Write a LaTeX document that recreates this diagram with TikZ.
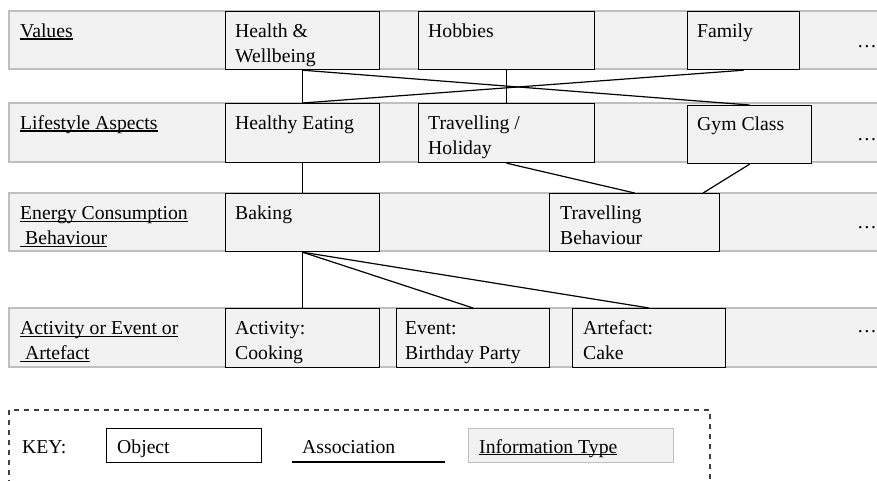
\documentclass[tikz,border=0pt]{standalone}
\usepackage{fontspec}
\setmainfont{Liberation Serif}
\usetikzlibrary{calc}
\definecolor{bandfill}{HTML}{F2F2F2}
\definecolor{bandline}{HTML}{BFBFBF}
\definecolor{keydash}{HTML}{404040}
\newsavebox\ulbox
\newcommand\ulin[1]{\sbox\ulbox{#1}\rlap{\rule[-2.4pt]{\wd\ulbox}{1.1pt}}\usebox\ulbox}
\tikzset{
  band/.style={draw=bandline, line width=1.1pt, fill=bandfill},
  obj/.style={draw=black, line width=1.2pt, fill=bandfill, anchor=north west, inner sep=0pt},
  txt/.style={anchor=north west, inner sep=0pt, align=left, font=\fontsize{19.7}{25}\selectfont},
  dots/.style={anchor=base west, inner sep=0pt, font=\fontsize{19.7}{25}\selectfont},
  assoc/.style={draw=black, line width=1.2pt},
  keyframe/.style={draw=keydash, line width=1.1pt, dash pattern=on 5pt off 5pt}
}
\begin{document}
\begin{tikzpicture}[x=1pt,y=-1pt]
\clip (0,0) rectangle (877,481);
% bands
\draw[band] (9,11) rectangle (895,69);
\draw[band] (9,103) rectangle (895,162);
\draw[band] (9,193) rectangle (895,251);
\draw[band] (9,308) rectangle (895,367);
% band labels
\node[txt] (l1) at (20,19.5) {\strut\ulin{Values}};
\node[txt] (l2) at (20,111.5) {\strut\ulin{Lifestyle Aspects}};
\node[txt] (l3) at (20,201.5) {\strut\ulin{Energy Consumption}\\\ulin{\ Behaviour}};
\node[txt] (l4) at (20,316.5) {\strut\ulin{Activity or Event or}\\\ulin{\ Artefact}};
% dots
\node[dots] (d1) at (857,47.5) {\dots};
\node[dots] (d2) at (857,140.5) {\dots};
\node[dots] (d3) at (857,228.5) {\dots};
\node[dots] (d4) at (857,332.5) {\dots};
% object boxes
\node[obj, minimum width=154pt, minimum height=58pt] (hw) at (225,11) {};
\node[obj, minimum width=176pt, minimum height=58pt] (hb) at (418,11) {};
\node[obj, minimum width=112pt, minimum height=58pt] (fa) at (687,11) {};
\node[obj, minimum width=154pt, minimum height=59pt] (he) at (225,103) {};
\node[obj, minimum width=176pt, minimum height=59pt] (tv) at (418,103) {};
\node[obj, minimum width=124pt, minimum height=58pt] (gc) at (687,105) {};
\node[obj, minimum width=154pt, minimum height=58pt] (bk) at (225,193) {};
\node[obj, minimum width=170pt, minimum height=58pt] (tb) at (549,193) {};
\node[obj, minimum width=154pt, minimum height=59pt] (ac) at (225,308) {};
\node[obj, minimum width=153pt, minimum height=59pt] (ev) at (396,308) {};
\node[obj, minimum width=153pt, minimum height=59pt] (ar) at (572,308) {};
\coordinate (tbr) at ($(tb.north west)!0.9!(tb.north east)$);
% connectors
\draw[assoc] (hw.south) -- (he.north);
\draw[assoc] (hw.south) -- (gc.north);
\draw[assoc] (fa.south) -- (he.north);
\draw[assoc] (hb.south) -- (tv.north);
\draw[assoc] (tv.south) -- (tb.north);
\draw[assoc] (gc.south) -- (tbr);
\draw[assoc] (he.south) -- (bk.north);
\draw[assoc] (bk.south) -- (ac.north);
\draw[assoc] (bk.south) -- (ev.north);
\draw[assoc] (bk.south) -- (ar.north);
% object texts
\node[txt] (thw) at (235,19.5) {\strut Health \&\\Wellbeing};
\node[txt] (thb) at (428,19.5) {\strut Hobbies};
\node[txt] (tfa) at (697,19.5) {\strut Family};
\node[txt] (the) at (235,111.5) {\strut Healthy Eating};
\node[txt] (ttv) at (428,111.5) {\strut Travelling /\\Holiday};
\node[txt] (tgc) at (697,112.5) {\strut Gym Class};
\node[txt] (tbk) at (235,201.5) {\strut Baking};
\node[txt] (ttb) at (560,201.5) {\strut Travelling\\Behaviour};
\node[txt] (tac) at (235,316.5) {\strut Activity:\\Cooking};
\node[txt] (tev) at (405,316.5) {\strut Event:\\Birthday Party};
\node[txt] (tar) at (583,316.5) {\strut Artefact:\\Cake};
% key
\draw[keyframe] (9,495) -- (9,410) -- (710,410) -- (710,495);
\node[dots] (key) at (22,453) {KEY:};
\node[obj, fill=white, minimum width=155pt, minimum height=34pt] (kobj) at (106,428) {};
\node[dots] (kobjt) at (117,453) {Object};
\coordinate (ka) at (292,462);
\coordinate (kb) at (445,462);
\draw[assoc] (ka) -- (kb);
\node[dots] (kat) at (302,453) {Association};
\node[obj, draw=bandline, line width=1.1pt, minimum width=205pt, minimum height=34pt] (kinfo) at (468,428) {};
\node[dots] (kinfot) at (479,453) {\ulin{Information Type}};
\end{tikzpicture}
\end{document}
